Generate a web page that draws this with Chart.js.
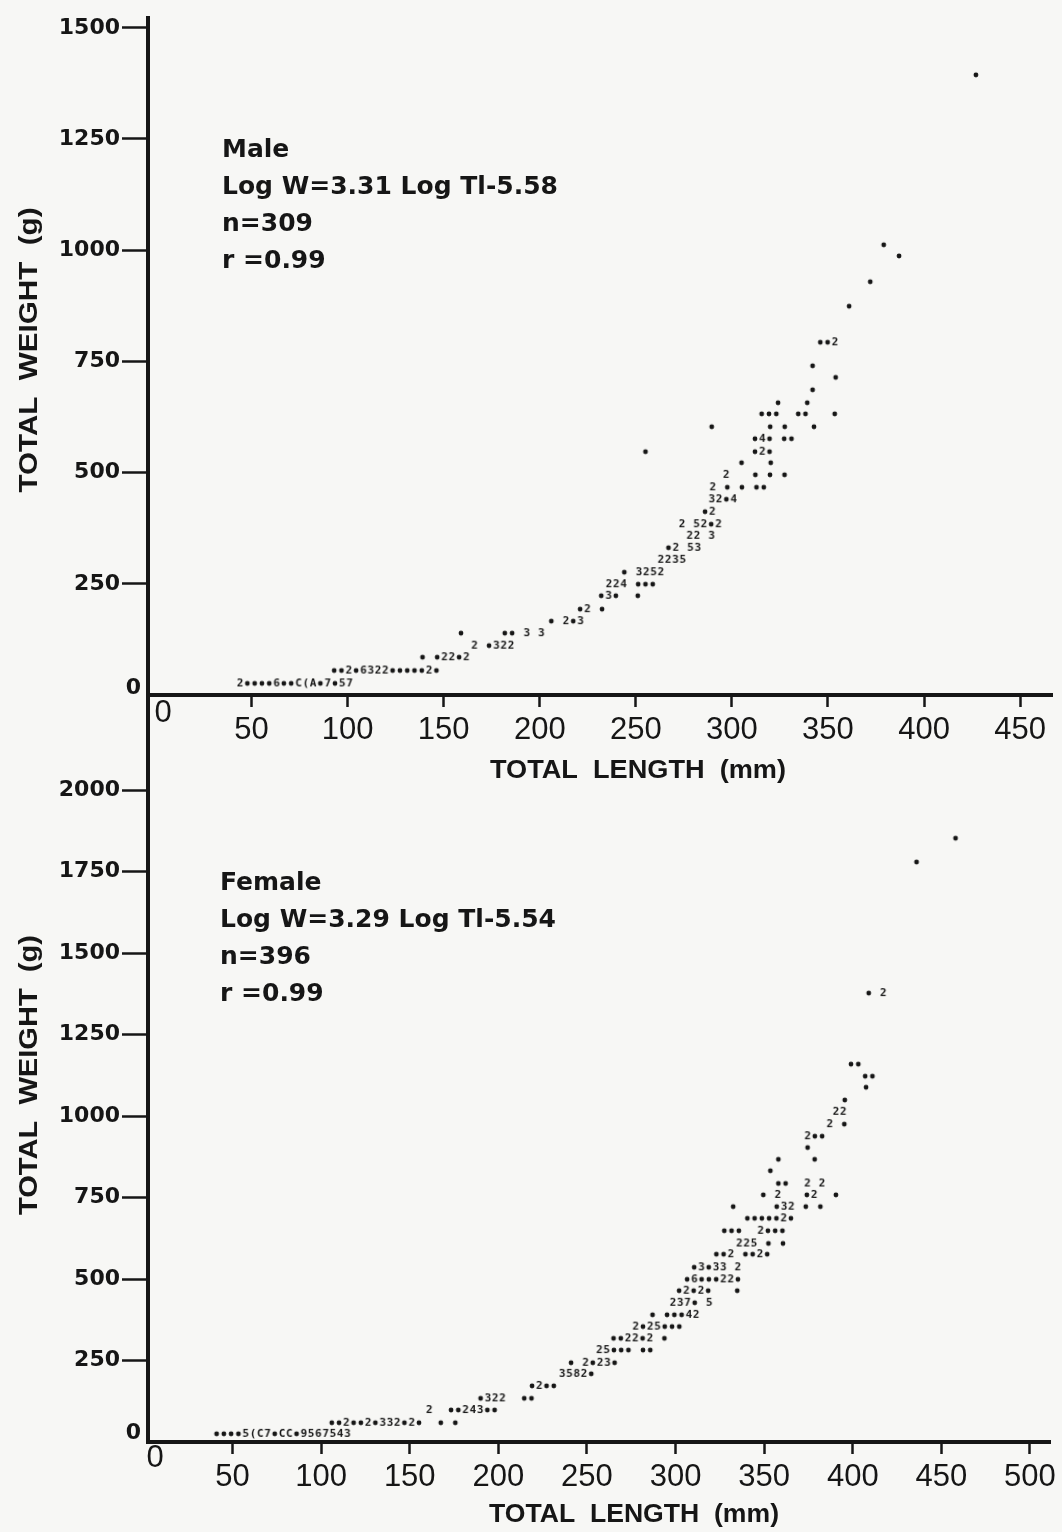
<!DOCTYPE html>
<html>
<head>
<meta charset="utf-8">
<title>Total weight vs total length</title>
<script src="https://cdn.jsdelivr.net/npm/chart.js@4.4.1/dist/chart.umd.min.js"></script>
<style>
  html, body { margin: 0; padding: 0; background: #f7f7f5; }
  #wrap { position: relative; width: 1062px; height: 1532px; overflow: hidden; }
  #wrap canvas { position: absolute; left: 0; }
  #maleChart { top: 0; }
  #femaleChart { top: 760px; }
</style>
</head>
<body>
<div id="wrap">
  <canvas id="maleChart" width="1062" height="790"></canvas>
  <canvas id="femaleChart" width="1062" height="772"></canvas>
</div>
<script>
// Line-printer scatter: each row is one weight class, each character one length column.
// '*' = one fish, a digit or letter = several fish in that cell, ' ' = empty cell.

// ---- males ----
const maleColumnStep = 3.8; // mm per printer column
const maleRowWeight = [26, 55, 85, 111, 139, 166, 193, 223, 249, 276, 304, 331, 358, 384, 412, 440,
  467, 495, 522, 547, 547, 576, 603, 632, 657, 686, 714, 740, 793, 874, 929, 987, 1012, 1394];
const maleRowStart = [44, 93, 139, 166, 159, 206, 221, 232, 236, 244, 263, 267, 278, 274, 286, 289.5,
  290, 297, 305, 255, 312, 312, 289.5, 315.5, 324, 342, 354, 342, 346, 361, 372, 387, 379, 427];
const maleRowSymbols = [
  '2****6**C(A*7*57', '**2*6322*****2*', '* *22*2', '2 *322', '*     ** 3 3', '* 2*3', '*2 *',
  '*3*  *', '224 ***', '* 3252', '2235', '*2 53', '22 3', '2 52*2', '*2', '32*4',
  '2 * * **', '2   * * *', '*   *', '*', '*2*', '*4* **', '*       * *   *', '***  **   *',
  '*   *', '*', '*', '*', '**2', '*', '*', '*', '*', '*'
];
const maleLengthTicks = [50, 100, 150, 200, 250, 300, 350, 400, 450];
const maleWeightTicks = [250, 500, 750, 1000, 1250, 1500];
const maleStats = ['Male', 'Log W=3.31 Log Tl-5.58', 'n=309', 'r =0.99'];

// ---- females ----
const femaleColumnStep = 4.1;
const femaleRowWeight = [25, 59, 98, 134, 172, 209, 243, 282, 318, 354, 390, 427, 464, 499, 536, 576,
  609, 648, 686, 722, 758, 793, 832, 867, 903, 938, 975, 1013, 1049, 1088, 1122, 1159, 1377, 1779, 1852];
const femaleRowStart = [41, 106, 161, 190, 219, 236, 241, 257, 265, 277.5, 287, 298.5, 302, 306.5, 310.5, 323,
  336, 327.5, 340.5, 332.5, 349.5, 358, 353.5, 358, 374.5, 374.5, 387, 390.5, 395.5, 407.5, 407, 399, 409, 436, 458];
const femaleRowSymbols = [
  '****5(C7*CC*9567543', '**2**2*332*2*  * *', '2  **243**', '*322  **', '*2**', '3582*', '* 2*23*',
  '25*** **', '**22*2 *', '2*25***', '* ***42', '237* 5', '*2*2*   *', '*6***22*', '*3*33 2', '**2 **2*',
  '225 * *', '***  2***', '*****2*', '*     *32 * *', '* 2   *2  *', '**  2 2', '*', '*    *', '*',
  '2**', '2 *', '22', '*', '*', '**', '**', '* 2', '*', '*'
];
const femaleLengthTicks = [50, 100, 150, 200, 250, 300, 350, 400, 450, 500];
const femaleWeightTicks = [250, 500, 750, 1000, 1250, 1500, 1750, 2000];
const femaleStats = ['Female', 'Log W=3.29 Log Tl-5.54', 'n=396', 'r =0.99'];

const ink = '#161616';

function expandRows(weights, starts, symbols, step) {
  const pts = [];
  symbols.forEach((row, r) => {
    [...row].forEach((s, i) => {
      if (s !== ' ') pts.push({ x: starts[r] + i * step, y: weights[r], s: s });
    });
  });
  return pts;
}

// small bitmaps used as point styles, one per printer symbol
const glyphCache = {};
function glyph(s) {
  if (glyphCache[s]) return glyphCache[s];
  const c = document.createElement('canvas');
  c.width = 12; c.height = 14;
  const g = c.getContext('2d');
  g.fillStyle = ink;
  if (s === '*') {
    g.beginPath(); g.arc(6, 7, 2.4, 0, Math.PI * 2); g.fill();
  } else {
    g.font = 'bold 11px "DejaVu Sans Mono"';
    g.textAlign = 'center'; g.textBaseline = 'middle';
    g.fillText(s, 6, 7.5);
  }
  glyphCache[s] = c;
  return c;
}

function fitText(ctx, text, cx, cy, width, rotate) {
  ctx.save();
  ctx.translate(cx, cy);
  if (rotate) ctx.rotate(-Math.PI / 2);
  ctx.scale(width / ctx.measureText(text).width, 1);
  ctx.fillText(text, 0, 0);
  ctx.restore();
}

// zero labels, axis titles, regression block and the shared vertical axis line
const figureText = {
  id: 'figureText',
  afterDraw(chart, args, o) {
    const { ctx, chartArea: a } = chart;
    ctx.save();
    ctx.fillStyle = ink; ctx.strokeStyle = ink;

    if (o.extendAxis) {
      ctx.lineWidth = 4;
      ctx.beginPath(); ctx.moveTo(a.left, a.bottom); ctx.lineTo(a.left, chart.height); ctx.stroke();
    }

    ctx.textBaseline = 'middle';
    ctx.font = 'bold 22px "DejaVu Sans"';
    ctx.textAlign = 'right';
    ctx.fillText('0', a.left - 7, a.bottom + o.yZeroDy);
    ctx.font = '31px "Liberation Sans"';
    ctx.textAlign = 'center';
    ctx.fillText('0', a.left + o.xZeroDx, a.bottom + o.xZeroDy);

    ctx.font = 'bold 25px "DejaVu Sans"';
    ctx.textAlign = 'left';
    o.lines.forEach((t, i) => ctx.fillText(t, o.textX, o.textY + i * 37));

    ctx.font = 'bold 25px "Liberation Sans"';
    ctx.textAlign = 'center';
    fitText(ctx, 'TOTAL  LENGTH  (mm)', o.xTitle[0], o.xTitle[1], o.xTitle[2], false);
    fitText(ctx, 'TOTAL  WEIGHT  (g)', o.yTitle[0], o.yTitle[1], o.yTitle[2], true);
    ctx.restore();
  }
};

function makeChart(id, c) {
  return new Chart(document.getElementById(id), {
    type: 'scatter',
    data: {
      datasets: [{
        data: c.points,
        pointStyle: ctx => glyph(ctx.raw ? ctx.raw.s : '*'),
        pointRadius: 3,
        pointHoverRadius: 3,
        backgroundColor: ink,
        borderColor: ink
      }]
    },
    options: {
      responsive: false,
      animation: false,
      events: [],
      layout: { padding: { top: c.padTop, right: c.padRight, left: 0, bottom: 0 } },
      plugins: {
        legend: { display: false },
        tooltip: { enabled: false },
        figureText: c.text
      },
      scales: {
        x: {
          type: 'linear', min: c.xMin, max: c.xMax,
          afterBuildTicks: s => { s.ticks = c.xTicks.map(v => ({ value: v })); },
          afterFit: s => { s.height = c.xHeight; },
          border: { display: true, color: ink, width: 4 },
          grid: { drawOnChartArea: false, drawTicks: true, tickLength: 12, tickWidth: 2.5, tickColor: ink },
          ticks: { color: ink, font: { family: 'Liberation Sans', size: 31 }, padding: 5,
                   maxRotation: 0, autoSkip: false, callback: v => String(v) }
        },
        y: {
          type: 'linear', min: 0, max: c.yMax,
          afterBuildTicks: s => { s.ticks = c.yTicks.map(v => ({ value: v })); },
          afterFit: s => { s.width = 148; },
          border: { display: true, color: ink, width: 4 },
          grid: { drawOnChartArea: false, drawTicks: true, tickLength: 26, tickWidth: 2.5, tickColor: ink },
          ticks: { color: ink, font: { family: 'DejaVu Sans', size: 22, weight: 'bold' }, padding: 2,
                   autoSkip: false, callback: v => String(v) }
        }
      }
    },
    plugins: [figureText]
  });
}

makeChart('maleChart', {
  points: expandRows(maleRowWeight, maleRowStart, maleRowSymbols, maleColumnStep),
  xMin: -3.9, xMax: 466.6, xTicks: maleLengthTicks,
  yMax: 1522, yTicks: maleWeightTicks,
  padTop: 18, padRight: 10, xHeight: 95,
  text: {
    extendAxis: true, yZeroDy: -7, xZeroDx: 15, xZeroDy: 18,
    lines: maleStats, textX: 222, textY: 150,
    xTitle: [638, 771, 296], yTitle: [30, 350, 285]
  }
});

makeChart('femaleChart', {
  points: expandRows(femaleRowWeight, femaleRowStart, femaleRowSymbols, femaleColumnStep),
  xMin: 2.3, xMax: 511.3, xTicks: femaleLengthTicks,
  yMax: 2000, yTicks: femaleWeightTicks,
  padTop: 30, padRight: 12, xHeight: 90,
  text: {
    extendAxis: false, yZeroDy: -9, xZeroDx: 7, xZeroDy: 16,
    lines: femaleStats, textX: 220, textY: 123,
    xTitle: [634, 755, 290], yTitle: [30, 315, 280]
  }
});
</script>
</body>
</html>
